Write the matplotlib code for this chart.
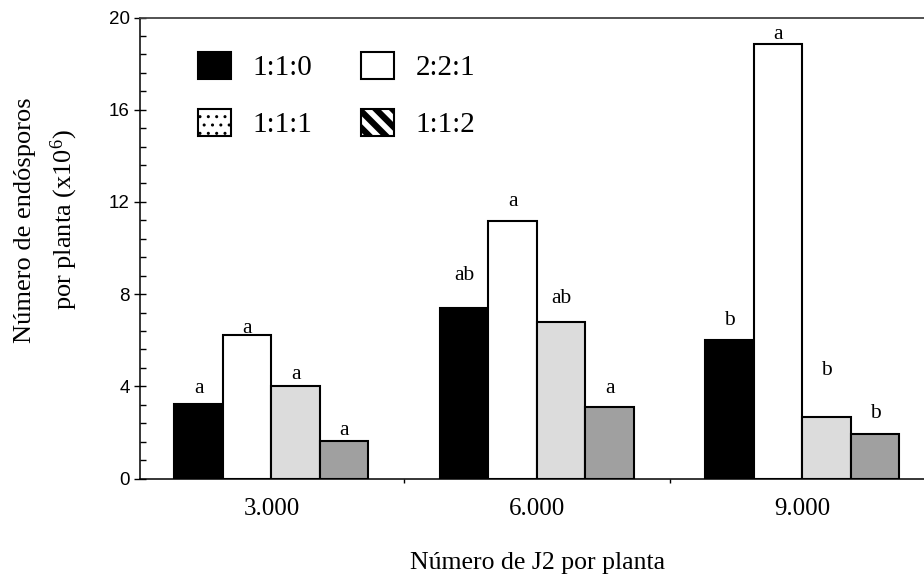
import numpy as np
import matplotlib
matplotlib.use("Agg")
import matplotlib.pyplot as plt
from matplotlib.patches import Patch
from matplotlib.ticker import MultipleLocator, FixedLocator

# ── Data ──────────────────────────────────────────────────────────────────────
groups   = ["3.000", "6.000", "9.000"]
series   = ["1:1:0", "2:2:1", "1:1:1", "1:1:2"]
v_110    = [3.22, 7.40, 6.01]
v_221    = [6.23, 11.17, 18.84]
v_111    = [4.03, 6.79, 2.68]
v_112    = [1.61, 3.10, 1.92]
letters_110 = ["a", "ab", "b"]
letters_221 = ["a", "a", "a"]
letters_111 = ["a", "ab", "b"]
letters_112 = ["a", "a", "b"]

# gap (points) between bar top and letter baseline
gap_110 = [8, 20, 11]
gap_221 = [1.5, 11, 4]
gap_111 = [4.5, 14, 30]
gap_112 = [4.5, 10, 11.5]

SERIF = "Liberation Serif"
SANS  = "Liberation Sans"
FILLS = ["black", "white", "#dcdcdc", "#a0a0a0"]

plt.rcParams["mathtext.fontset"] = "custom"
plt.rcParams["mathtext.rm"] = SERIF
plt.rcParams["mathtext.it"] = SERIF + ":italic"

fig = plt.figure(figsize=(9.24, 5.83), dpi=100)
W, H = 924, 583
ax = fig.add_axes([140 / W, (H - 478.5) / H, (935 - 140) / W, (478.5 - 17.5) / H])

x = np.arange(1, len(groups) + 1)
bw = 0.1827
vals = [v_110, v_221, v_111, v_112]
lets = [letters_110, letters_221, letters_111, letters_112]
gaps = [gap_110, gap_221, gap_111, gap_112]

for i, (v, fc) in enumerate(zip(vals, FILLS)):
    xs = x + (i - 1.5) * bw
    ax.bar(xs, v, width=bw, color=fc, edgecolor="black", linewidth=1.5, zorder=3)
    for xi, yi, t, g in zip(xs, v, lets[i], gaps[i]):
        ax.annotate(t, xy=(xi, yi), xytext=(0, g), textcoords="offset points",
                    ha="center", va="baseline", fontsize=15.5, family=SERIF)

ax.set_xlim(0.505, 3.5)
ax.set_ylim(0, 20)

# y axis
ax.yaxis.set_major_locator(MultipleLocator(4))
ax.yaxis.set_minor_locator(MultipleLocator(0.8))
ax.tick_params(axis="y", which="major", direction="inout", length=9, width=1,
               labelsize=13.5, pad=3)
ax.tick_params(axis="y", which="minor", direction="in", length=4.5, width=1)
for lab in ax.get_yticklabels():
    lab.set_family(SANS)

# x axis
ax.set_xticks(x)
ax.set_xticklabels(groups, family=SERIF, fontsize=18)
ax.xaxis.set_minor_locator(FixedLocator([1.5, 2.5]))
ax.tick_params(axis="x", which="major", length=0, pad=14)
ax.tick_params(axis="x", which="minor", direction="out", length=3, width=1)

ax.spines["right"].set_visible(False)
ax.spines["top"].set_color("#444444")
ax.spines["top"].set_linewidth(1.3)
for s in ("left", "bottom"):
    ax.spines[s].set_linewidth(1.1)

# labels
fig.text(538 / W, 1 - 563 / H, "Número de J2 por planta", ha="center", va="center",
         fontsize=18.5, family=SERIF)
fig.text(47 / W, 1 - 220 / H, "Número de endósporos\npor planta (x10$^6$)",
         rotation=90, ha="center", va="center", multialignment="center",
         fontsize=19, family=SERIF, linespacing=1.55)

# legend
handles = [
    Patch(facecolor="black", edgecolor="black", label="1:1:0"),
    Patch(facecolor="white", edgecolor="black", hatch="..", label="1:1:1"),
    Patch(facecolor="white", edgecolor="black", label="2:2:1"),
    Patch(facecolor="white", edgecolor="black", hatch="\\\\", label="1:1:2"),
]
leg = ax.legend(handles=handles, ncol=2, loc="upper left",
                bbox_to_anchor=(198 / W, 1 - 52 / H), bbox_transform=fig.transFigure,
                frameon=False, prop={"family": SERIF, "size": 21},
                handlelength=1.13, handleheight=1.03, handletextpad=0.72,
                labelspacing=0.95, columnspacing=1.7, borderaxespad=0, borderpad=0)
for p in leg.get_patches():
    p.set_linewidth(1.5)
    if p.get_hatch() == "\\\\":
        try:
            p.set_hatch_linewidth(4.5)
        except AttributeError:
            pass

fig.savefig("out.png", dpi=100)
